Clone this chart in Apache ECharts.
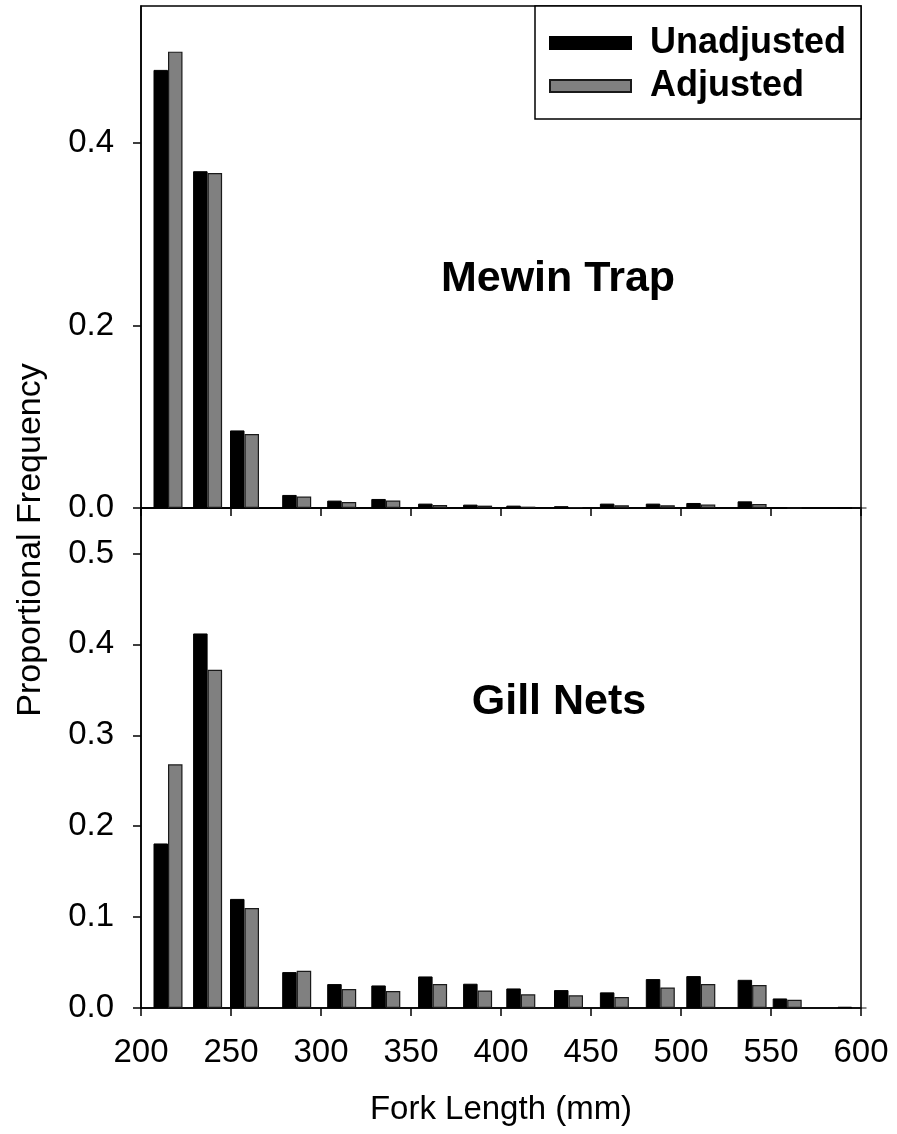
<!DOCTYPE html>
<html>
<head>
<meta charset="utf-8">
<script src="https://cdn.jsdelivr.net/npm/echarts@6/dist/echarts.min.js"></script>
<style>
  html, body { margin: 0; padding: 0; background: #fff; }
  #chart { width: 897px; height: 1134px; }
</style>
</head>
<body>
<div id="chart"></div>
<script>
// Fork-length bin midpoints (mm)
const binMid = [215, 237, 257.5, 286.5, 311.5, 336, 362, 387, 411, 437.5, 463, 488.5, 511, 539.5, 559, 595];

// Mewin trap proportions
const trapUnadjusted = [0.480, 0.369, 0.085, 0.0143, 0.0081, 0.0099, 0.0048, 0.0037, 0.0026, 0.0020, 0.0048, 0.0048, 0.0055, 0.0073, 0, 0.0010];
const trapAdjusted   = [0.500, 0.367, 0.081, 0.0125, 0.0066, 0.0081, 0.0033, 0.0026, 0.0015, 0.0011, 0.0030, 0.0030, 0.0037, 0.0044, 0, 0];

// Gill net proportions
const gillUnadjusted = [0.181, 0.412, 0.120, 0.0395, 0.0263, 0.0248, 0.0347, 0.0267, 0.0215, 0.0197, 0.0172, 0.0318, 0.0351, 0.0310, 0.0105, 0.0014];
const gillAdjusted   = [0.268, 0.372, 0.110, 0.0410, 0.0208, 0.0186, 0.0263, 0.0193, 0.0150, 0.0139, 0.0120, 0.0226, 0.0263, 0.0252, 0.0091, 0];

// Axis ticks
const xTicks = [200, 250, 300, 350, 400, 450, 500, 550, 600];
const trapYTicks = [0, 0.2, 0.4];
const gillYTicks = [0, 0.1, 0.2, 0.3, 0.4, 0.5];

const FONT = '"Liberation Sans", Arial, sans-serif';
const pairs = (xs, ys) => xs.map((x, i) => [x, ys[i]]);

const chart = echarts.init(document.getElementById('chart'), null, { renderer: 'canvas' });

const axisLineStyle = { lineStyle: { color: '#000', width: 1.5 } };
const tickStyle = { show: true, inside: false, length: 8, lineStyle: { color: '#000', width: 1.5 } };

function xAxis(gridIndex, showLabels) {
  return {
    type: 'value', gridIndex, min: 200, max: 600, interval: 50,
    axisLine: { show: true, ...axisLineStyle },
    axisTick: { ...tickStyle, customValues: xTicks },
    axisLabel: {
      show: showLabels, customValues: xTicks, margin: 28,
      color: '#000', fontSize: 33, fontFamily: FONT
    },
    splitLine: { show: false }
  };
}

function yAxis(gridIndex, ticks) {
  return {
    type: 'value', gridIndex, min: 0, max: 0.55,
    axisLine: { show: true, ...axisLineStyle },
    axisTick: { ...tickStyle, customValues: ticks },
    axisLabel: {
      customValues: ticks, margin: 27,
      color: '#000', fontSize: 33, fontFamily: FONT,
      formatter: v => v.toFixed(1)
    },
    splitLine: { show: false }
  };
}

const blackStyle = { color: '#000', borderColor: '#000', borderWidth: 1 };
const greyStyle = { color: '#808080', borderColor: '#1a1a1a', borderWidth: 1.2 };

function barSeries(name, idx, data, style) {
  return {
    name, type: 'bar', xAxisIndex: idx, yAxisIndex: idx,
    data, barWidth: 14.5, barGap: '0%', itemStyle: style
  };
}

chart.setOption({
  animation: false,
  backgroundColor: '#fff',
  grid: [
    { left: 141, right: 36, top: 6, height: 502, show: true, borderColor: '#000', borderWidth: 1.5, backgroundColor: 'transparent' },
    { left: 141, right: 36, top: 508, height: 500, show: true, borderColor: '#000', borderWidth: 1.5, backgroundColor: 'transparent' }
  ],
  xAxis: [xAxis(0, false), xAxis(1, true)],
  yAxis: [yAxis(0, trapYTicks), yAxis(1, gillYTicks)],
  legend: {
    orient: 'vertical', left: 549, top: 25,
    itemWidth: 81, itemHeight: 12, itemGap: 7, padding: 0,
    icon: 'rect',
    data: ['Unadjusted', 'Adjusted'],
    textStyle: { fontSize: 36, fontWeight: 'bold', color: '#000', fontFamily: FONT, padding: [0, 0, 0, 14] }
  },
  graphic: [
    { type: 'rect', z: 0, shape: { x: 535, y: 6, width: 326, height: 113 },
      style: { fill: '#fff', stroke: '#000', lineWidth: 1.5 } },
    { type: 'text', x: 558, y: 279,
      style: { text: 'Mewin Trap', align: 'center', verticalAlign: 'middle', fontSize: 43, fontWeight: 'bold', fontFamily: FONT, fill: '#000' } },
    { type: 'text', x: 559, y: 702,
      style: { text: 'Gill Nets', align: 'center', verticalAlign: 'middle', fontSize: 43, fontWeight: 'bold', fontFamily: FONT, fill: '#000' } },
    { type: 'text', x: 31, y: 540, rotation: Math.PI / 2,
      style: { text: 'Proportional Frequency', align: 'center', verticalAlign: 'middle', fontSize: 34, fontFamily: FONT, fill: '#000' } },
    { type: 'text', x: 501, y: 1110,
      style: { text: 'Fork Length (mm)', align: 'center', verticalAlign: 'middle', fontSize: 33, fontFamily: FONT, fill: '#000' } }
  ],
  series: [
    barSeries('Unadjusted', 0, pairs(binMid, trapUnadjusted), blackStyle),
    barSeries('Adjusted', 0, pairs(binMid, trapAdjusted), greyStyle),
    barSeries('Unadjusted', 1, pairs(binMid, gillUnadjusted), blackStyle),
    barSeries('Adjusted', 1, pairs(binMid, gillAdjusted), greyStyle)
  ]
});
</script>
</body>
</html>
